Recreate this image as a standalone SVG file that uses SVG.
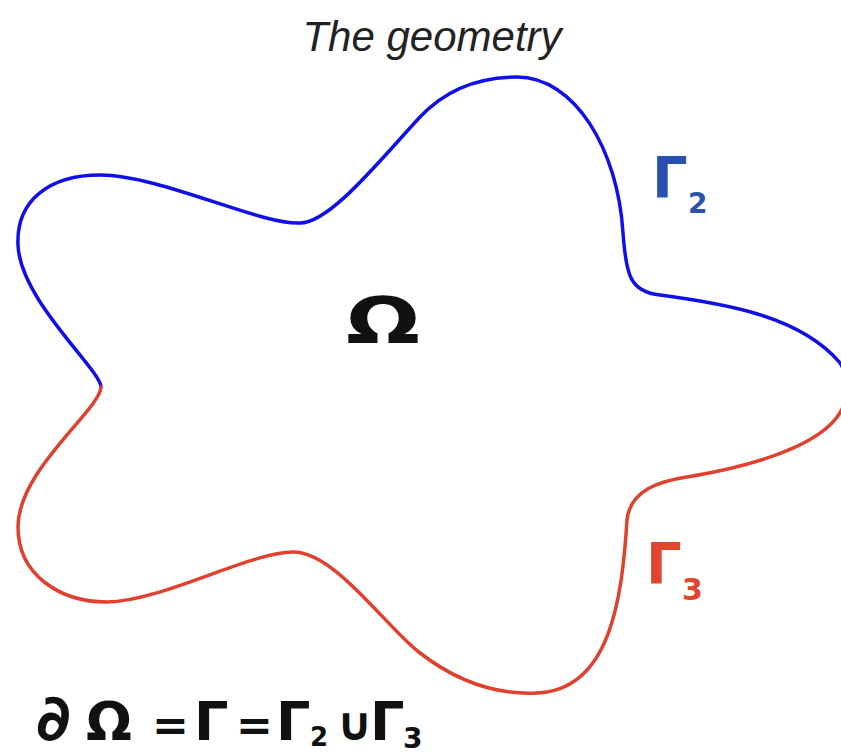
<svg xmlns="http://www.w3.org/2000/svg" width="841" height="756" viewBox="0 0 841 756">
<style>
.title{font-family:"Liberation Sans",Arial,sans-serif;font-style:italic;font-size:42px;fill:#222}
.curve{fill:none;stroke-width:3.5;stroke-linecap:round;stroke-linejoin:round}
.g2{stroke:#1010e6}
.g3{stroke:#e0402e}
.hand{font-family:"DejaVu Sans","Noto Sans",sans-serif;font-weight:bold}
.blue{fill:#2a50b0}
.red{fill:#e0452e}
.black{fill:#111}
</style>
<rect width="841" height="756" fill="#fff"/>
<text class="title" x="432" y="51" text-anchor="middle">The geometry</text>
<g id="connectors">
<path id="gamma2-curve" class="curve g2" d="M 101 387 C 101 370, 20 300, 18 245 C 16 200, 50 175, 100 175 C 160 175, 260 225, 300 223 C 330 223, 380 160, 420 117 C 450 85, 485 77, 517 77 C 575 77, 618 150, 623 233 C 626 275, 630 292, 660 295 C 720 303, 800 315, 840 363 C 845 370, 848 385, 846 395"/>
<path id="gamma3-curve" class="curve g3" d="M 846 395 C 842 440, 760 465, 687 477 C 660 481, 630 490, 627 520 C 622 600, 610 690, 537 693 C 495 695, 455 680, 420 653 C 385 626, 335 552, 293 552 C 250 552, 160 602, 107 602 C 60 602, 18 575, 18 527 C 18 470, 100 410, 101 387"/>
</g>
<g id="omega">
<text class="hand black" x="346" y="343" font-size="64" textLength="74" lengthAdjust="spacingAndGlyphs">Ω</text>
</g>
<g id="gamma2-label">
<text class="hand blue" x="652" y="198" font-size="56">Γ<tspan x="688" y="213" font-size="28">2</tspan></text>
</g>
<g id="gamma3-label">
<text class="hand red" x="646" y="584" font-size="56">Γ<tspan x="682" y="600" font-size="30">3</tspan></text>
</g>
<g id="formula">
<text class="hand black" font-size="54"><tspan x="36" y="740" font-size="64">∂</tspan><tspan x="86" y="740">Ω</tspan><tspan x="152" y="740" font-size="44">=</tspan><tspan x="194" y="740">Γ</tspan><tspan x="236" y="740" font-size="44">=</tspan><tspan x="276" y="740">Γ</tspan><tspan x="310" y="746" font-size="26">2</tspan><tspan x="336" y="740" font-size="46">∪</tspan><tspan x="370" y="740">Γ</tspan><tspan x="403" y="748" font-size="28">3</tspan></text>
</g>
</svg>
